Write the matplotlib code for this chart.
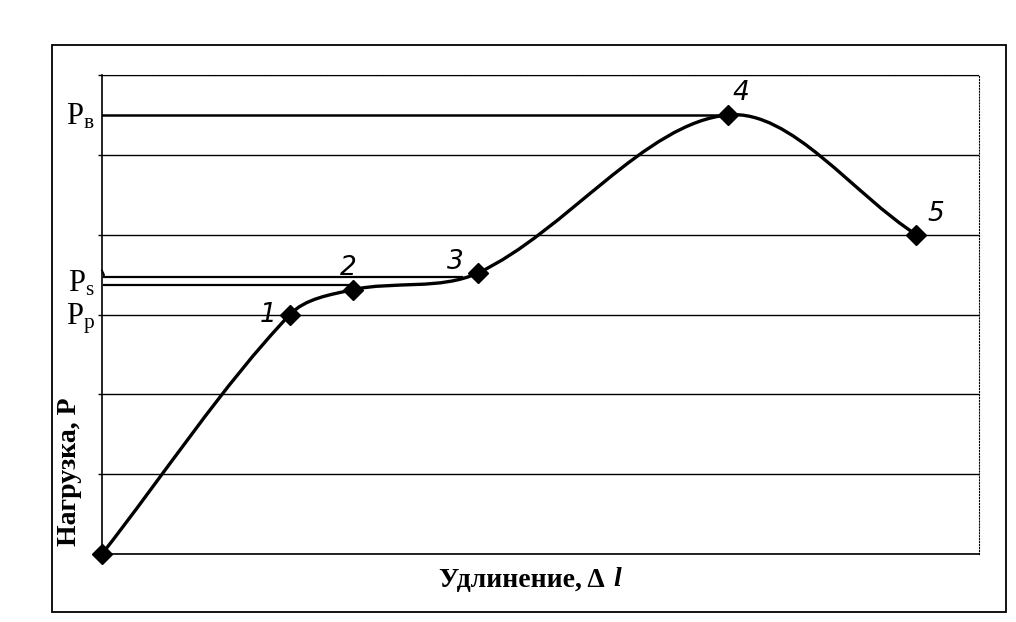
import numpy as np
import matplotlib
matplotlib.use('Agg')
import matplotlib.pyplot as plt
from matplotlib.path import Path
from matplotlib.patches import PathPatch, Rectangle

plt.rcParams['font.family'] = ['Liberation Serif', 'DejaVu Serif']
plt.rcParams['mathtext.fontset'] = 'custom'
plt.rcParams['mathtext.rm'] = 'Liberation Serif'

# data (elongation, load)
elong = [0, 3, 4, 6, 10, 13]
load = [0, 3.0, 3.31, 3.52, 5.5, 4.0]
point_names = ['', '1', '2', '3', '4', '5']
name_offsets = [(0, 0), (-16, 0), (-3, 16), (-16, 8), (9, 16), (14, 15)]

level_names = [r'$\mathregular{P_в}$', r'$\mathregular{P_s}$', r'$\mathregular{P_p}$']
level_values = [5.5, 3.41, 3.0]
ps_upper, ps_lower = 3.47, 3.37

fig = plt.figure(figsize=(10.16, 6.22), dpi=100)
ax = fig.add_axes([102/1016, 1-554/622, 877/1016, 479/622])
ax.set_xlim(0, 14)
ax.set_ylim(0, 6)

# smoothed line through the points, handles weighted by segment length
sx, sy = 877/14, 479/6
pts = np.column_stack([elong, load])
n = len(pts)

def dist(a, b):
    return np.hypot((a[0]-b[0])*sx, (a[1]-b[1])*sy)

verts = [pts[0]]
codes = [Path.MOVETO]
for i in range(n - 1):
    a, p0, p1, b = pts[max(i-1, 0)], pts[i], pts[i+1], pts[min(i+2, n-1)]
    d0 = dist(a, p0)
    d1 = dist(p0, p1)
    d2 = dist(p1, b)
    c1 = p0 + (p1 - a) * d1 / (d0 + d1) / 3.0
    c2 = p1 - (b - p0) * d1 / (d1 + d2) / 3.0
    verts += [c1, c2, p1]
    codes += [Path.CURVE4] * 3
ax.add_patch(PathPatch(Path(verts, codes), fill=False, lw=2.4, ec='black',
                       capstyle='round', joinstyle='round', zorder=3))
ax.plot(elong, load, 'D', ms=10, color='black', zorder=4, clip_on=False)

for x, y, s, off in zip(elong, load, point_names, name_offsets):
    if s:
        ax.annotate(s, (x, y), xytext=off, textcoords='offset points',
                    ha='center', va='center', fontsize=19, style='italic',
                    family='DejaVu Sans', fontweight='light')

# hand drawn level lines
ax.plot([0, elong[4]], [load[4], load[4]], color='black', lw=1.8, zorder=2)
ax.plot([0.03, 5.75], [ps_upper, ps_upper], color='black', lw=1.6, zorder=2)
ax.plot([0.03, elong[2]], [ps_lower, ps_lower], color='black', lw=1.6, zorder=2)
ax.plot([0.0, 0.03, 0.03], [ps_upper + 0.08, ps_upper + 0.03, ps_upper],
        color='black', lw=1.4, zorder=2, clip_on=False)

for name, val in zip(level_names, level_values):
    ax.annotate(name, (0, val), xycoords=ax.get_yaxis_transform(),
                xytext=(-5, -7), textcoords='offset points',
                ha='right', va='baseline', fontsize=22)

ax.set_xticks([])
ax.set_yticks(range(0, 7))
ax.set_yticklabels([])
ax.tick_params(axis='y', length=3, width=1)
ax.yaxis.grid(True, color='black', lw=1)
ax.set_axisbelow(True)

for side in ['top', 'right']:
    ax.spines[side].set_linestyle(':')
    ax.spines[side].set_linewidth(0.8)
ax.spines['left'].set_linewidth(1.2)
ax.spines['bottom'].set_linewidth(1.2)

fig.text(522/1016, 1-580/622, 'Удлинение, Δ', fontsize=20, fontweight='bold',
         ha='center', va='center')
fig.text(617/1016, 1-580/622, 'l', fontsize=20, fontweight='bold',
         style='italic', ha='center', va='center')
fig.text(70/1016, 1-472/622, 'Нагрузка, Р', fontsize=20, fontweight='bold',
         rotation=90, ha='center', va='center')

# outer chart frame
fig.patches.append(Rectangle((52/1016, 1-612/622), 954/1016, 567/622,
                             transform=fig.transFigure, fill=False,
                             ec='black', lw=1.3))

fig.savefig('out.png', dpi=100)
